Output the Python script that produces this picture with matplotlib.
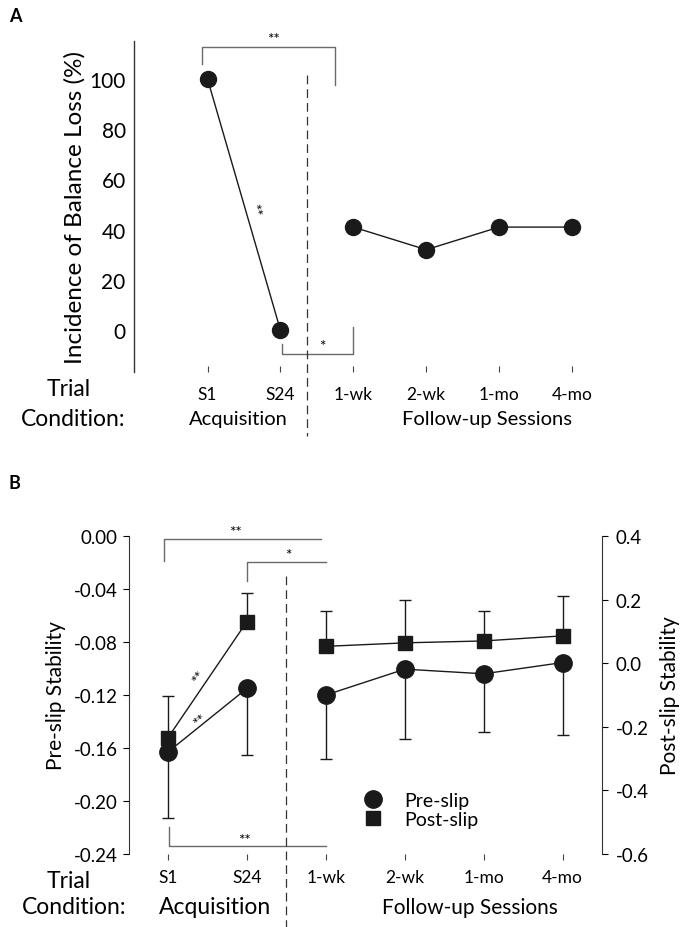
import matplotlib
matplotlib.use("Agg")
import matplotlib.pyplot as plt
from matplotlib.lines import Line2D

plt.rcParams['font.family'] = ['Lato', 'DejaVu Sans']
plt.rcParams['axes.unicode_minus'] = False

# ---------------- data ----------------
conditions = ["S1", "S24", "1-wk", "2-wk", "1-mo", "4-mo"]
balance_loss = [100, 0, 41, 32, 41, 41]

pre_slip = [-0.163, -0.115, -0.120, -0.1005, -0.104, -0.0955]
pre_slip_err_low = [0.050, 0.050, 0.048, 0.053, 0.044, 0.055]
post_slip = [-0.234, 0.131, 0.053, 0.064, 0.070, 0.086]
post_slip_err_up = [0.130, 0.090, 0.112, 0.134, 0.095, 0.124]

left_ticks = [0.00, -0.04, -0.08, -0.12, -0.16, -0.20, -0.24]
right_ticks = [0.4, 0.2, 0.0, -0.2, -0.4, -0.6]
a_ticks = [0, 20, 40, 60, 80, 100]

W, H = 694, 928
fig = plt.figure(figsize=(W / 100, H / 100), dpi=100)


def fx(px):
    return px / W


def fy(py):
    return 1 - py / H


BLACK = '#1a1a1a'
GRAY = '#6a6a6a'
x = list(range(len(conditions)))

# ================= Panel A =================
axA = fig.add_axes([fx(134), fy(373), (640 - 134) / W, (373 - 42) / H])
axA.set_xlim(-(207.5 - 134) / 72.9, 5 + (640 - 572) / 72.9)
axA.set_ylim(-16.7, 115.1)
for s in ['top', 'right', 'bottom']:
    axA.spines[s].set_visible(False)
axA.spines['left'].set_color('#333333')
axA.spines['left'].set_linewidth(1.0)

axA.plot(x[:2], balance_loss[:2], color=BLACK, lw=1.0, marker='o', ms=11.5,
         mfc=BLACK, mec=BLACK, zorder=3)
axA.plot(x[2:], balance_loss[2:], color=BLACK, lw=1.0, marker='o', ms=11.5,
         mfc=BLACK, mec=BLACK, zorder=3)

axA.set_yticks(a_ticks)
axA.set_yticklabels([str(t) for t in a_ticks])
axA.tick_params(axis='y', length=0, pad=6, labelsize=15)
axA.set_xticks(x)
axA.set_xticklabels(conditions)
axA.tick_params(axis='x', direction='in', length=4, width=0.8, color='#444444',
                pad=10, labelsize=12.5)
axA.set_ylabel("Incidence of Balance Loss (%)", fontsize=17.5, labelpad=3)

# brackets
axA.plot([-0.07, -0.07, 1.75, 1.75], [106.0, 112.7, 112.7, 97.6], color=GRAY,
         lw=1.0, clip_on=False)
axA.text(0.9, 113.3, "**", ha='center', va='bottom', fontsize=11)
axA.plot([1.02, 1.02, 2.0, 2.0], [-5.6, -9.6, -9.6, 1.2], color=GRAY, lw=1.0,
         clip_on=False)
axA.text(1.58, -9.0, "*", ha='center', va='bottom', fontsize=11)
axA.text(0.64, 48, "**", ha='center', va='center', rotation=-74, fontsize=11)
# divider
axA.plot([1.365, 1.365], [101.6, -42.2], color='#333333', lw=0.9,
         ls=(0, (7, 4)), clip_on=False)

fig.text(fx(69), fy(390), "Trial", ha='center', va='center', fontsize=16.5)
fig.text(fx(73), fy(420), "Condition:", ha='center', va='center', fontsize=16.5)
fig.text(fx(238), fy(420), "Acquisition", ha='center', va='center', fontsize=14.5)
fig.text(fx(487), fy(420), "Follow-up Sessions", ha='center', va='center', fontsize=14.5)
fig.text(fx(15), fy(16), "A", ha='center', va='center', fontsize=13, fontweight='bold')

# ================= Panel B =================
axB = fig.add_axes([fx(129), fy(855), (602 - 129) / W, (855 - 537) / H])
axB.set_xlim(-(168 - 129) / 78.9, 5 + (602 - 562.7) / 78.9)
axB.set_ylim(-0.24, 0.0)
axB2 = axB.twinx()
axB2.set_ylim(-0.6, 0.4)
for a in (axB, axB2):
    for s in ['top', 'bottom']:
        a.spines[s].set_visible(False)
    a.spines['left'].set_color('#333333')
    a.spines['right'].set_color('#333333')
axB.spines['right'].set_visible(False)
axB2.spines['left'].set_visible(False)

# pre-slip (left axis)
axB.errorbar(x, pre_slip, yerr=[pre_slip_err_low, [0] * 6], fmt='none',
             ecolor=BLACK, elinewidth=1.0, capsize=4.3, capthick=1.0, zorder=2)
axB.plot(x[:2], pre_slip[:2], color=BLACK, lw=1.0, marker='o', ms=12.5,
         mfc=BLACK, mec=BLACK, zorder=3)
axB.plot(x[2:], pre_slip[2:], color=BLACK, lw=1.0, marker='o', ms=12.5,
         mfc=BLACK, mec=BLACK, zorder=3)

# post-slip (right axis)
axB2.errorbar(x, post_slip, yerr=[[0] * 6, post_slip_err_up], fmt='none',
              ecolor=BLACK, elinewidth=1.0, capsize=4.3, capthick=1.0, zorder=2)
axB2.plot(x[:2], post_slip[:2], color=BLACK, lw=1.0, marker='s', ms=10.5,
          mfc=BLACK, mec=BLACK, zorder=3)
axB2.plot(x[2:], post_slip[2:], color=BLACK, lw=1.0, marker='s', ms=10.5,
          mfc=BLACK, mec=BLACK, zorder=3)

axB.set_yticks(left_ticks)
axB.set_yticklabels([f"{t:.2f}" for t in left_ticks])
axB.tick_params(axis='y', direction='out', length=4, width=0.8, pad=4, labelsize=13.5)
axB2.set_yticks(right_ticks)
axB2.set_yticklabels([f"{t:.1f}" for t in right_ticks])
axB2.tick_params(axis='y', direction='out', length=4, width=0.8, pad=6, labelsize=13.5)
axB.set_xticks(x)
axB.set_xticklabels(conditions)
axB.tick_params(axis='x', direction='out', length=4, width=0.8, color='#444444',
                pad=7, labelsize=12.5)
axB.set_ylabel("Pre-slip Stability", fontsize=15, labelpad=6)
axB2.set_ylabel("Post-slip Stability", fontsize=15, labelpad=8)

# brackets
axB.plot([-0.05, -0.05, 1.94], [-0.0189, -0.0023, -0.0023], color=GRAY, lw=1.0,
         clip_on=False)
axB.text(0.86, -0.0025, "**", ha='center', va='bottom', fontsize=11)
axB.plot([1.0, 1.0, 2.0], [-0.034, -0.0196, -0.0196], color=GRAY, lw=1.0,
         clip_on=False)
axB.text(1.52, -0.0195, "*", ha='center', va='bottom', fontsize=11)
axB.plot([0.01, 0.01, 2.0], [-0.2196, -0.234, -0.234], color=GRAY, lw=1.0,
         clip_on=False)
axB.text(0.97, -0.2345, "**", ha='center', va='bottom', fontsize=11)
axB.text(0.40, -0.106, "**", ha='center', va='center', rotation=55, fontsize=11)
axB.text(0.41, -0.139, "**", ha='center', va='center', rotation=38, fontsize=11)

# divider
axB.plot([1.50, 1.50], [-0.030, -0.295], color='#333333', lw=0.9,
         ls=(0, (7, 4)), clip_on=False)

handles = [Line2D([], [], ls='none', marker='o', ms=12.5, color=BLACK),
           Line2D([], [], ls='none', marker='s', ms=10.5, color=BLACK)]
fig.legend(handles, ["Pre-slip", "Post-slip"], loc='center left',
           bbox_to_anchor=(fx(363), fy(811)), frameon=False, fontsize=14,
           handlelength=1.0, handletextpad=1.1, labelspacing=0.12,
           borderaxespad=0, borderpad=0)

fig.text(fx(69), fy(882), "Trial", ha='center', va='center', fontsize=16.5)
fig.text(fx(74), fy(908), "Condition:", ha='center', va='center', fontsize=16.5)
fig.text(fx(215), fy(908), "Acquisition", ha='center', va='center', fontsize=16.5)
fig.text(fx(470), fy(908), "Follow-up Sessions", ha='center', va='center', fontsize=15)
fig.text(fx(14), fy(484), "B", ha='center', va='center', fontsize=13, fontweight='bold')

fig.savefig("out.png", dpi=100)
